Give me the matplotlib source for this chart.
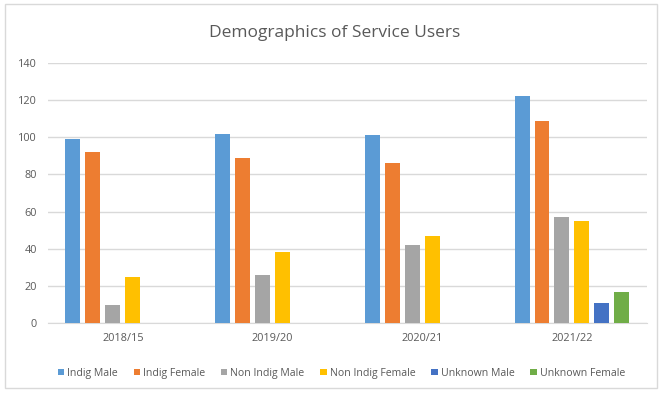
import matplotlib
matplotlib.use('Agg')
import matplotlib.pyplot as plt
import numpy as np
from matplotlib.patches import Rectangle

years = ['2018/15', '2019/20', '2020/21', '2021/22']
series = ['Indig Male', 'Indig Female', 'Non Indig Male', 'Non Indig Female',
          'Unknown Male', 'Unknown Female']
indig_male = [99, 102, 101, 122]
indig_female = [92, 89, 86, 109]
non_indig_male = [10, 26, 42, 57]
non_indig_female = [25, 38, 47, 55]
unknown_male = [0, 0, 0, 11]
unknown_female = [0, 0, 0, 17]
colors = ['#5B9BD5', '#ED7D31', '#A5A5A5', '#FFC000', '#4472C4', '#70AD47']

values = [indig_male, indig_female, non_indig_male, non_indig_female,
          unknown_male, unknown_female]

plt.rcParams['font.family'] = ['Open Sans', 'DejaVu Sans']

fig = plt.figure(figsize=(6.62, 3.94), dpi=100, facecolor='white')
fig.patches.append(Rectangle((0.008, 0.015), 0.985, 0.975, transform=fig.transFigure,
                             fill=False, edgecolor='#D9D9D9', linewidth=1))
ax = fig.add_axes([0.0725, 0.180, 0.9045, 0.660])

x = np.arange(len(years))
slot = 20 / 150
for i, (name, vals) in enumerate(zip(series, values)):
    ax.bar(x + (i - 2.5) * slot, vals, width=0.1, color=colors[i], label=name, zorder=3)

ax.set_xlim(-0.5, 3.5)
ax.set_ylim(0, 140)
ax.set_yticks(range(0, 141, 20))
ax.set_xticks(x)
ax.set_xticklabels(years)
ax.grid(axis='y', color='#D9D9D9', linewidth=1, zorder=0)
for s in ['top', 'right', 'left']:
    ax.spines[s].set_visible(False)
ax.spines['bottom'].set_color('#D9D9D9')
ax.tick_params(length=0, labelsize=7.8, colors='#595959')
ax.tick_params(axis='x', pad=7)
ax.tick_params(axis='y', pad=8)

fig.text(0.505, 0.915, 'Demographics of Service Users', ha='center', va='center',
         fontsize=12.5, color='#595959')

ax.legend(loc='upper center', bbox_to_anchor=(0.49, -0.135), ncol=6, frameon=False,
          fontsize=7.6, handlelength=0.6, handleheight=0.6, handletextpad=0.3,
          columnspacing=1.5, labelcolor='#595959')

fig.savefig('out.png', dpi=100, facecolor='white')
